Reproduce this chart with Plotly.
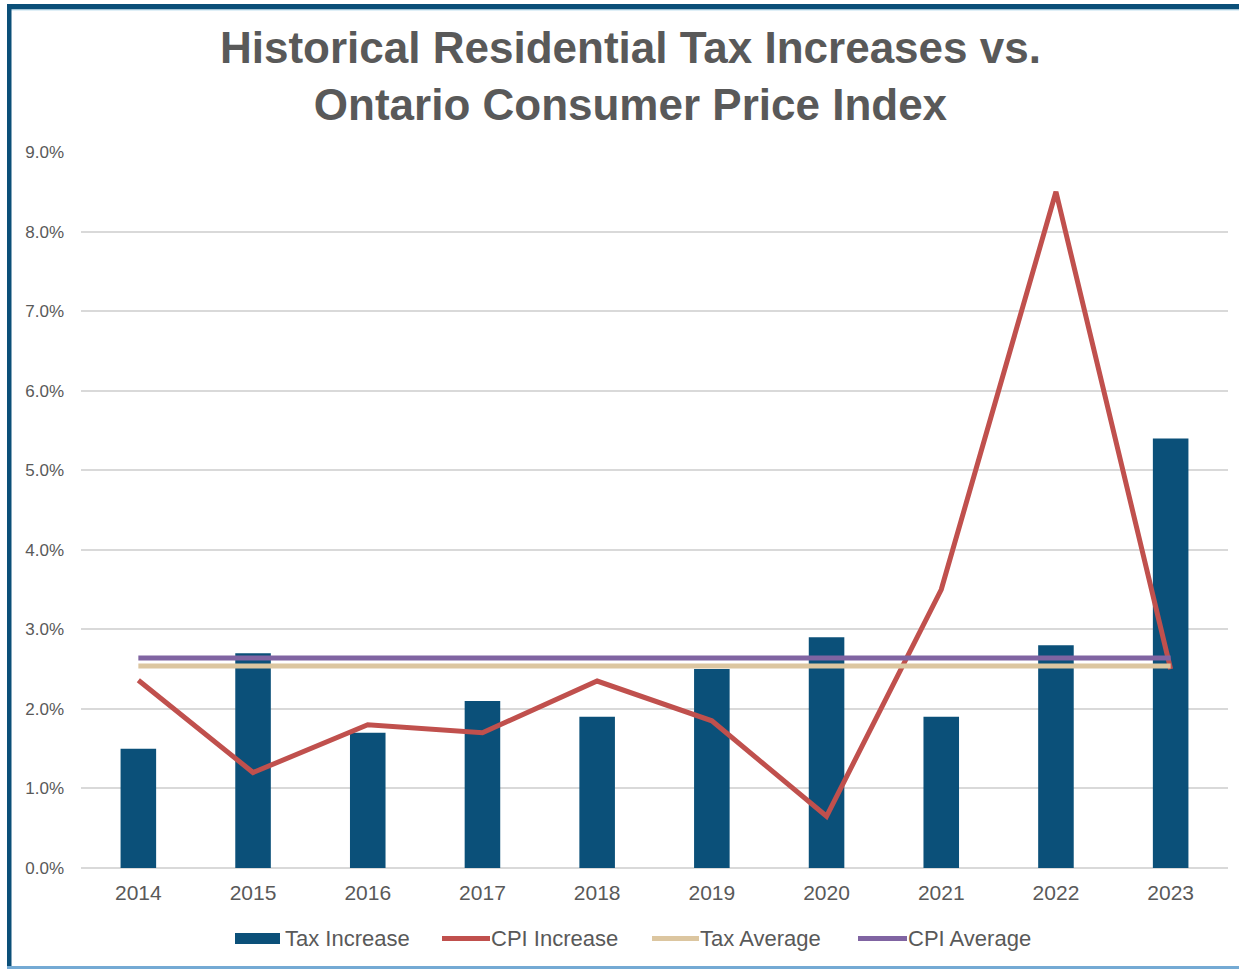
import plotly.graph_objects as go

# ---------------- data ----------------
years = ["2014", "2015", "2016", "2017", "2018", "2019", "2020", "2021", "2022", "2023"]
tax_increase = [1.5, 2.7, 1.7, 2.1, 1.9, 2.5, 2.9, 1.9, 2.8, 5.4]
cpi_increase = [2.36, 1.2, 1.8, 1.7, 2.35, 1.85, 0.65, 3.5, 8.5, 2.5]
tax_average = [2.54, 2.54, 2.54, 2.54, 2.54, 2.54, 2.54, 2.54, 2.54, 2.54]
cpi_average = [2.64, 2.64, 2.64, 2.64, 2.64, 2.64, 2.64, 2.64, 2.64, 2.64]
y_tick_values = [0, 1, 2, 3, 4, 5, 6, 7, 8, 9]
y_tick_labels = ["0.0%", "1.0%", "2.0%", "3.0%", "4.0%", "5.0%", "6.0%", "7.0%", "8.0%", "9.0%"]
series_names = ["Tax Increase", "CPI Increase", "Tax Average", "CPI Average"]
title_text = "Historical Residential Tax Increases vs.<br>Ontario Consumer Price Index"

# ---------------- style ----------------
BAR_COLOR = "#0B5079"
CPI_COLOR = "#C0504D"
TAXAVG_COLOR = "#DCC6A0"
CPIAVG_COLOR = "#8064A2"
TEXT_COLOR = "#595959"
GRID_COLOR = "#D9D9D9"
BORDER_DARK = "#0B4F78"
BORDER_LIGHT = "#74AAD4"
FONT = "Liberation Sans, Arial, sans-serif"

W, H = 1239, 969
L, R, T, B = 81, 11, 152, 101
PW = W - L - R
PH = H - T - B


def px(x):
    return (x - L) / PW


def py(y):
    return (H - B - y) / PH


fig = go.Figure()

fig.add_trace(go.Bar(
    x=years, y=tax_increase, name=series_names[0],
    marker=dict(color=BAR_COLOR, line=dict(width=0)),
    width=0.31, showlegend=False,
))
fig.add_trace(go.Scatter(
    x=years, y=cpi_increase, name=series_names[1], mode="lines",
    line=dict(color=CPI_COLOR, width=5), showlegend=False,
))
fig.add_trace(go.Scatter(
    x=years, y=tax_average, name=series_names[2], mode="lines",
    line=dict(color=TAXAVG_COLOR, width=5), showlegend=False,
))
fig.add_trace(go.Scatter(
    x=years, y=cpi_average, name=series_names[3], mode="lines",
    line=dict(color=CPIAVG_COLOR, width=5), showlegend=False,
))

shapes = [
    # frame
    dict(type="rect", xref="paper", yref="paper", x0=px(7), x1=px(1240), y0=py(9.5), y1=py(4),
         fillcolor=BORDER_DARK, line=dict(width=0), layer="above"),
    dict(type="rect", xref="paper", yref="paper", x0=px(7), x1=px(1240), y0=py(10.5), y1=py(9.5),
         fillcolor="#BFE0F0", line=dict(width=0), layer="above"),
    dict(type="rect", xref="paper", yref="paper", x0=px(7), x1=px(11.5), y0=py(967), y1=py(4),
         fillcolor=BORDER_DARK, line=dict(width=0), layer="above"),
    dict(type="rect", xref="paper", yref="paper", x0=px(7), x1=px(1240), y0=py(969), y1=py(966),
         fillcolor=BORDER_LIGHT, line=dict(width=0), layer="above"),
]

annotations = [
    dict(text=title_text, xref="paper", yref="paper", x=px(630), y=py(76),
         xanchor="center", yanchor="middle", showarrow=False, align="center",
         font=dict(family=FONT, size=44, color=TEXT_COLOR, weight="bold")),
]

# custom legend
legend_y = 938.5
legend_items = [
    (series_names[0], BAR_COLOR, "bar", 235, 280, 283),
    (series_names[1], CPI_COLOR, "line", 442, 490, 489),
    (series_names[2], TAXAVG_COLOR, "line", 652, 699, 698),
    (series_names[3], CPIAVG_COLOR, "line", 858, 907, 906),
]
for name, color, kind, s0, s1, tx in legend_items:
    if kind == "bar":
        shapes.append(dict(type="rect", xref="paper", yref="paper", x0=px(s0), x1=px(s1),
                           y0=py(legend_y + 5.5), y1=py(legend_y - 5.5),
                           fillcolor=color, line=dict(width=0)))
    else:
        shapes.append(dict(type="line", xref="paper", yref="paper", x0=px(s0), x1=px(s1),
                           y0=py(legend_y), y1=py(legend_y),
                           line=dict(color=color, width=5)))
    annotations.append(dict(text=name, xref="paper", yref="paper", x=px(tx), y=py(legend_y),
                            xanchor="left", yanchor="middle", showarrow=False,
                            font=dict(family=FONT, size=22, color=TEXT_COLOR)))

fig.update_layout(
    width=W, height=H, autosize=False,
    margin=dict(l=L, r=R, t=T, b=B, pad=0),
    paper_bgcolor="white", plot_bgcolor="white",
    showlegend=False,
    shapes=shapes,
    annotations=annotations,
    bargap=0.69,
)

fig.update_xaxes(
    type="category", showgrid=False, showline=False, zeroline=False, ticks="",
    tickfont=dict(family=FONT, size=21, color=TEXT_COLOR),
    ticklabelstandoff=10,
)
fig.update_yaxes(
    range=[0, 9], tickvals=y_tick_values, ticktext=y_tick_labels,
    showgrid=True, gridcolor=GRID_COLOR, gridwidth=1.5,
    zeroline=True, zerolinecolor=GRID_COLOR, zerolinewidth=1.5,
    showline=False, ticks="",
    tickfont=dict(family=FONT, size=17, color=TEXT_COLOR),
    ticklabelstandoff=16,
)

fig.write_html("out.html")
